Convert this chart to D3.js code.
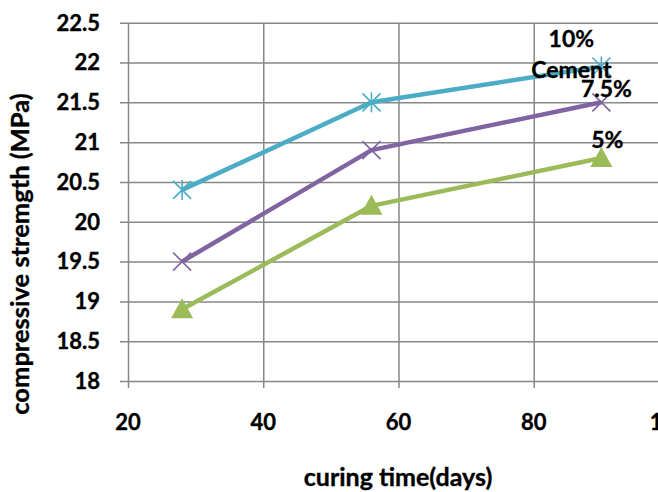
<!DOCTYPE html>
<html>
<head>
<meta charset="utf-8">
<script src="https://cdn.jsdelivr.net/npm/d3@7"></script>
<style>
  html, body { margin: 0; padding: 0; background: #fff; }
  svg { display: block; }
  text { font-family: Lato, "Open Sans", sans-serif; font-weight: 700; fill: #000; stroke: #000; stroke-width: 0.35px; }
</style>
</head>
<body>
<svg id="chart" width="658" height="492"></svg>
<script>
// ---- data ----
const days = [28, 56, 90];
const cement10 = [20.4, 21.5, 21.95];
const cement75 = [19.5, 20.9, 21.5];
const cement5 = [18.9, 20.2, 20.8];
const xTicks = [20, 40, 60, 80, 100];
const yTicks = [18, 18.5, 19, 19.5, 20, 20.5, 21, 21.5, 22, 22.5];
const seriesLabels = [["10%", "Cement"], ["7.5%"], ["5%"]];

(function () {
const svg = d3.select("#chart");
const pLeft = 128, pRight = 669, pTop = 22.7, pBottom = 381;

const x = d3.scaleLinear().domain([20, 100]).range([pLeft, pRight]);
const y = d3.scaleLinear().domain([18, 22.5]).range([pBottom, pTop]);

const gridColor = "#878787";

// horizontal gridlines (with outward tick)
svg.append("g").attr("transform", `translate(${pLeft},0)`)
  .call(d3.axisLeft(y).tickValues(yTicks).tickSize(-(pRight - pLeft)).tickSizeOuter(0).tickFormat(""))
  .call(g => g.select(".domain").remove())
  .call(g => g.selectAll("line").attr("stroke", gridColor).attr("stroke-width", 1.5).attr("x1", -8));

// vertical gridlines
svg.append("g").attr("transform", `translate(0,${pBottom})`)
  .call(d3.axisBottom(x).tickValues(xTicks).tickSize(-(pBottom - pTop)).tickSizeOuter(0).tickFormat(""))
  .call(g => g.select(".domain").remove())
  .call(g => g.selectAll("line").attr("stroke", gridColor).attr("stroke-width", 1.5).attr("y1", 7));

// y tick labels
svg.append("g").selectAll("text").data(yTicks).join("text")
  .attr("x", 100).attr("y", d => y(d) + 7.8)
  .attr("text-anchor", "end").attr("font-size", 22)
  .text(d => d);

// x tick labels
svg.append("g").selectAll("text").data(xTicks).join("text")
  .attr("x", d => x(d)).attr("y", 430)
  .attr("text-anchor", "middle").attr("font-size", 22)
  .text(d => d);

// axis titles
svg.append("text").attr("x", 398).attr("y", 486).attr("text-anchor", "middle")
  .attr("font-size", 25).text("curing time(days)");
svg.append("text").attr("transform", "translate(29,254) rotate(-90)").attr("text-anchor", "middle")
  .attr("font-size", 25.5).text("compressive stremgth (MPa)");

const series = [
  { vals: cement10, color: "#4BACC6", marker: "star" },
  { vals: cement75, color: "#8064A2", marker: "x" },
  { vals: cement5, color: "#9BBB59", marker: "tri" }
];

const line = d3.line().x(d => x(d[0])).y(d => y(d[1]));

series.forEach(s => {
  const pts = days.map((d, i) => [d, s.vals[i]]);
  svg.append("path").datum(pts).attr("d", line)
    .attr("fill", "none").attr("stroke", s.color).attr("stroke-width", 4.5)
    .attr("stroke-linejoin", "round");
  const g = svg.append("g");
  pts.forEach(p => {
    const cx = x(p[0]), cy = y(p[1]);
    if (s.marker === "tri") {
      g.append("path")
        .attr("d", `M${cx},${cy - 11} L${cx + 11},${cy + 9} L${cx - 11},${cy + 9} Z`)
        .attr("fill", s.color);
    } else {
      const r = 9;
      let d = `M${cx - r},${cy - r} L${cx + r},${cy + r} M${cx - r},${cy + r} L${cx + r},${cy - r}`;
      if (s.marker === "star") d += ` M${cx},${cy - r - 1} L${cx},${cy + r + 1}`;
      g.append("path").attr("d", d).attr("stroke", s.color).attr("stroke-width", 1.6).attr("fill", "none");
    }
  });
});

// data labels at last point
const lastX = x(days[2]);
const lab = svg.append("g");
lab.append("text").attr("x", lastX - 30).attr("y", 47).attr("text-anchor", "middle").attr("font-size", 23).text(seriesLabels[0][0]);
lab.append("text").attr("x", lastX - 30).attr("y", 78).attr("text-anchor", "middle").attr("font-size", 23).text(seriesLabels[0][1]);
lab.append("text").attr("x", lastX + 5).attr("y", 97).attr("text-anchor", "middle").attr("font-size", 23).text(seriesLabels[1][0]);
lab.append("text").attr("x", lastX + 6).attr("y", 148).attr("text-anchor", "middle").attr("font-size", 23).text(seriesLabels[2][0]);
})();
</script>
</body>
</html>
